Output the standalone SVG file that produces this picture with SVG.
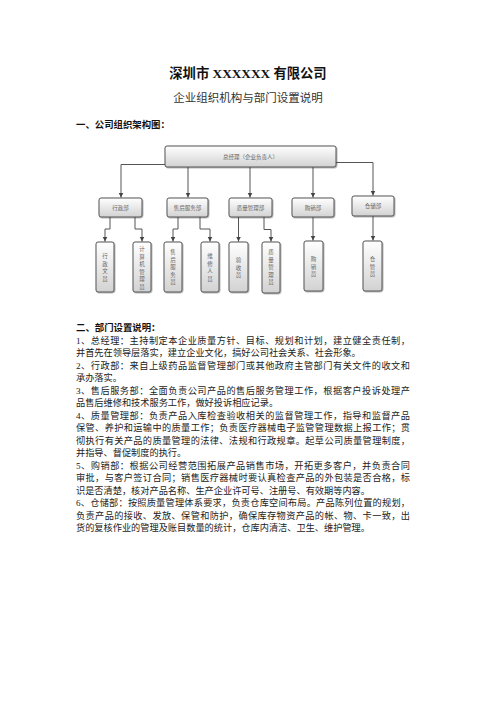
<svg xmlns="http://www.w3.org/2000/svg" width="496" height="702" viewBox="0 0 496 702">
<style>
.title{font-family:"Liberation Serif","Noto Sans CJK SC",serif;font-size:13.3px;font-weight:bold;fill:#111;text-anchor:middle}
.sub{font-family:"Liberation Serif","Noto Sans CJK SC",serif;font-size:11.5px;fill:#333;text-anchor:middle}
.h{font-family:"Liberation Serif","Noto Sans CJK SC",serif;font-size:9.4px;font-weight:bold;fill:#111}
.t{font-family:"Liberation Serif","Noto Sans CJK SC",serif;font-size:9.2px;fill:#222}
.box{fill:url(#g);stroke:#555;stroke-width:1;filter:url(#sh)}
.bt{font-family:"Noto Sans CJK SC",sans-serif;font-size:5.5px;fill:#666;text-anchor:middle}
.c{fill:none;stroke:#555;stroke-width:1;marker-end:url(#ah)}
</style>
<defs>
<linearGradient id="g" x1="0" y1="0" x2="0" y2="1">
<stop offset="0" stop-color="#ffffff"/>
<stop offset="1" stop-color="#d2d2d2"/>
</linearGradient>
<filter id="sh" x="-20%" y="-20%" width="140%" height="140%">
<feDropShadow dx="0.8" dy="0.8" stdDeviation="0.6" flood-color="#000" flood-opacity="0.35"/>
</filter>
<marker id="ah" markerUnits="userSpaceOnUse" markerWidth="6" markerHeight="6" refX="5" refY="2.5" orient="auto">
<path d="M0,0 L5,2.5 L0,5 Z" fill="#444"/>
</marker>
</defs>
<rect width="496" height="702" fill="#fff"/>
<text class="title" x="248" y="78">深圳市 XXXXXX 有限公司</text>
<text class="sub" x="248" y="102">企业组织机构与部门设置说明</text>
<text class="h" x="76" y="127.5">一、公司组织架构图：</text>

<g id="connectors">
<path class="c" d="M165,164.5 H121 V197.5"/>
<path class="c" d="M188,167 V197.5"/>
<path class="c" d="M250,167 V197.5"/>
<path class="c" d="M313,167 V197.5"/>
<path class="c" d="M336,162.5 H373 V195.5"/>
<path class="c" d="M110,217 V229 H105 V241.5"/>
<path class="c" d="M135,217 V229 H142 V241.5"/>
<path class="c" d="M178,217 V229 H173 V241.5"/>
<path class="c" d="M200,217 V229 H210 V241.5"/>
<path class="c" d="M238.5,217 V241.5"/>
<path class="c" d="M264,217 V229.5 H271 V241.5"/>
<path class="c" d="M313,217 V240.5"/>
<path class="c" d="M373,215.5 V240.5"/>
</g>

<g id="n-gm"><rect class="box" x="165" y="146" width="171" height="21" rx="2"/><text class="bt" x="250.5" y="158.5">总经理（企业负责人）</text></g>
<g id="n-xz"><rect class="box" x="99" y="198" width="43" height="19" rx="2"/><text class="bt" x="120.5" y="209.5">行政部</text></g>
<g id="n-sh"><rect class="box" x="167" y="198" width="41" height="19" rx="2"/><text class="bt" x="187.5" y="209.5">售后服务部</text></g>
<g id="n-zl"><rect class="box" x="229" y="198" width="43" height="19" rx="2"/><text class="bt" x="250.5" y="209.5">质量管理部</text></g>
<g id="n-gx"><rect class="box" x="292" y="198" width="42" height="19" rx="2"/><text class="bt" x="313" y="209.5">购销部</text></g>
<g id="n-cc"><rect class="box" x="352" y="196" width="42" height="20" rx="2"/><text class="bt" x="373" y="208">仓储部</text></g>

<g id="n-xzwy"><rect class="box" x="96" y="242" width="18" height="50" rx="2"/>
<text class="bt" x="105"><tspan x="105" y="258">行</tspan><tspan x="105" y="265.5">政</tspan><tspan x="105" y="273">文</tspan><tspan x="105" y="280.5">员</tspan></text></g>
<g id="n-jsj"><rect class="box" x="133" y="242" width="18" height="50" rx="2"/>
<text class="bt" x="142"><tspan x="142" y="251">计</tspan><tspan x="142" y="258.5">算</tspan><tspan x="142" y="266">机</tspan><tspan x="142" y="273.5">管</tspan><tspan x="142" y="281">理</tspan><tspan x="142" y="288.5">员</tspan></text></g>
<g id="n-shfw"><rect class="box" x="164" y="242" width="18" height="50" rx="2"/>
<text class="bt" x="173"><tspan x="173" y="254">售</tspan><tspan x="173" y="261.5">后</tspan><tspan x="173" y="269">服</tspan><tspan x="173" y="276.5">务</tspan><tspan x="173" y="284">员</tspan></text></g>
<g id="n-wx"><rect class="box" x="201" y="242" width="18" height="50" rx="2"/>
<text class="bt" x="210"><tspan x="210" y="258">维</tspan><tspan x="210" y="265.5">修</tspan><tspan x="210" y="273">人</tspan><tspan x="210" y="280.5">员</tspan></text></g>
<g id="n-ys"><rect class="box" x="229" y="242" width="19" height="50" rx="2"/>
<text class="bt" x="238.5"><tspan x="238.5" y="262">验</tspan><tspan x="238.5" y="269.5">收</tspan><tspan x="238.5" y="277">员</tspan></text></g>
<g id="n-zlgl"><rect class="box" x="262" y="242" width="18" height="51" rx="2"/>
<text class="bt" x="271"><tspan x="271" y="254">质</tspan><tspan x="271" y="261.5">量</tspan><tspan x="271" y="269">管</tspan><tspan x="271" y="276.5">理</tspan><tspan x="271" y="284">员</tspan></text></g>
<g id="n-gxy"><rect class="box" x="304" y="241" width="19" height="50" rx="2"/>
<text class="bt" x="313.5"><tspan x="313.5" y="261">购</tspan><tspan x="313.5" y="268.5">销</tspan><tspan x="313.5" y="276">员</tspan></text></g>
<g id="n-cgy"><rect class="box" x="363" y="241" width="19" height="50" rx="2"/>
<text class="bt" x="372.5"><tspan x="372.5" y="261">仓</tspan><tspan x="372.5" y="268.5">管</tspan><tspan x="372.5" y="276">员</tspan></text></g>

<text class="h" x="76" y="331">二、部门设置说明：</text>
<text class="t" x="76" y="343.5" textLength="334" lengthAdjust="spacing">1、总经理：主持制定本企业质量方针、目标、规划和计划，建立健全责任制，</text>
<text class="t" x="76" y="356">并首先在领导层落实，建立企业文化，搞好公司社会关系、社会形象。</text>
<text class="t" x="76" y="368.5" textLength="334" lengthAdjust="spacing">2、行政部：来自上级药品监督管理部门或其他政府主管部门有关文件的收文和</text>
<text class="t" x="76" y="381">承办落实。</text>
<text class="t" x="76" y="393.5" textLength="334" lengthAdjust="spacing">3、售后服务部：全面负责公司产品的售后服务管理工作，根据客户投诉处理产</text>
<text class="t" x="76" y="406">品售后维修和技术服务工作，做好投诉相应记录。</text>
<text class="t" x="76" y="418.5" textLength="334" lengthAdjust="spacing">4、质量管理部：负责产品入库检查验收相关的监督管理工作，指导和监督产品</text>
<text class="t" x="76" y="431" textLength="334" lengthAdjust="spacing">保管、养护和运输中的质量工作；负责医疗器械电子监管管理数据上报工作；贯</text>
<text class="t" x="76" y="443.5" textLength="334" lengthAdjust="spacing">彻执行有关产品的质量管理的法律、法规和行政规章。起草公司质量管理制度，</text>
<text class="t" x="76" y="456">并指导、督促制度的执行。</text>
<text class="t" x="76" y="468.5" textLength="334" lengthAdjust="spacing">5、购销部：根据公司经营范围拓展产品销售市场，开拓更多客户，并负责合同</text>
<text class="t" x="76" y="481" textLength="334" lengthAdjust="spacing">审批，与客户签订合同；销售医疗器械时要认真检查产品的外包装是否合格，标</text>
<text class="t" x="76" y="493.5">识是否清楚，核对产品名称、生产企业许可号、注册号、有效期等内容。</text>
<text class="t" x="76" y="506" textLength="334" lengthAdjust="spacing">6、仓储部：按照质量管理体系要求，负责仓库空间布局。产品陈列位置的规划，</text>
<text class="t" x="76" y="518.5" textLength="334" lengthAdjust="spacing">负责产品的接收、发放、保管和防护，确保库存物资产品的帐、物、卡一致，出</text>
<text class="t" x="76" y="531">货的复核作业的管理及账目数量的统计，仓库内清洁、卫生、维护管理。</text>
</svg>
